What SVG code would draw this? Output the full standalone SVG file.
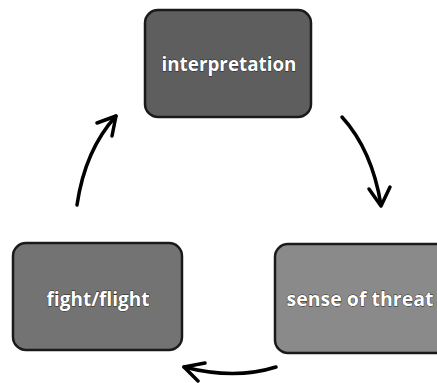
<svg xmlns="http://www.w3.org/2000/svg" width="437" height="383" viewBox="0 0 437 383">
<style>
.box{stroke:#1a1a1a;stroke-width:2.5}
.lbl{font-family:"Open Sans","Liberation Sans",sans-serif;font-weight:700;font-size:19px;fill:#fff;text-anchor:middle;stroke:#222;stroke-width:0.8;paint-order:stroke}
.arr{fill:none;stroke:#000;stroke-width:3.5;stroke-linecap:round;stroke-linejoin:round}
</style>
<rect width="437" height="383" fill="#fff"/>
<g id="interpretation">
<rect class="box" x="145" y="10" width="166" height="107" rx="13" fill="#5e5e5e"/>
<text class="lbl" x="229" y="71" textLength="135" lengthAdjust="spacingAndGlyphs">interpretation</text>
</g>
<g id="sense-of-threat">
<rect class="box" x="275" y="244" width="175" height="109" rx="13" fill="#8a8a8a"/>
<text class="lbl" x="360" y="306" textLength="147" lengthAdjust="spacingAndGlyphs">sense of threat</text>
</g>
<g id="fight-flight">
<rect class="box" x="13" y="243" width="169" height="107" rx="13" fill="#737373"/>
<text class="lbl" x="98" y="306" textLength="103" lengthAdjust="spacingAndGlyphs">fight/flight</text>
</g>
<g id="connectors">
<path class="arr" d="M342 117 Q372 150 381 205"/>
<path class="arr" d="M369 189 L381 206 L390 187"/>
<path class="arr" d="M276 367 Q235 380 184 367"/>
<path class="arr" d="M205 363 L184 367 L198 381"/>
<path class="arr" d="M77 205 Q85 150 116 116"/>
<path class="arr" d="M97 123 L116 116 L112 136"/>
</g>
</svg>
